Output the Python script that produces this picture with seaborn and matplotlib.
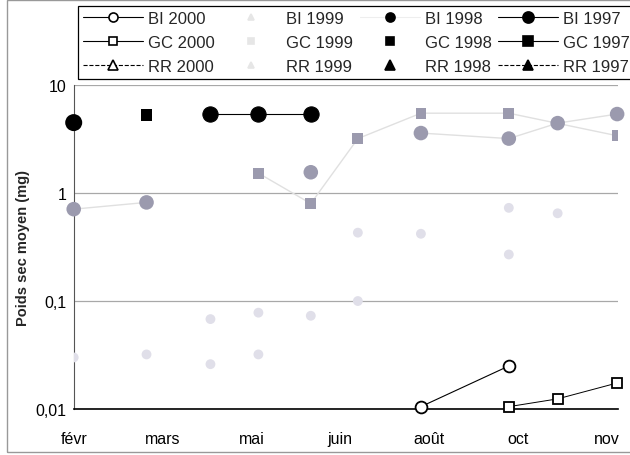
import numpy as np
import pandas as pd
import matplotlib
matplotlib.use('Agg')
import matplotlib.pyplot as plt
import matplotlib.lines as mlines
import matplotlib.patches as mpatches
import seaborn as sns

# axis text
mois_labels = ['févr', 'mars', 'mai', 'juin', 'août', 'oct', 'nov']
y_ticks = [0.01, 0.1, 1, 10]
y_ticklabels = ['0,01', '0,1', '1', '10']

# series (x = position on the month axis, y = mg)
bi2000_x = [3.91, 4.90]
bi2000_y = [0.0105, 0.025]
gc2000_x = [4.90, 5.45, 6.12]
gc2000_y = [0.0105, 0.0124, 0.0174]

bi1999_x = [0.0, 0.82, 2.67, 3.91, 4.90, 5.45, 6.12]
bi1999_y = [0.71, 0.82, 1.56, 3.6, 3.2, 4.45, 5.4]
bi1999_troncon = [0, 0, 1, 2, 2, 2, 2]   # the line is broken between pieces
gc1999_x = [2.08, 2.67, 3.20, 3.91, 4.90, 6.12]
gc1999_y = [1.53, 0.80, 3.2, 5.5, 5.5, 3.4]
rr1999_x = [0.0, 0.82, 1.54, 1.54, 2.08, 2.08, 2.67, 3.20, 3.20, 3.91, 4.90, 4.90, 5.45]
rr1999_y = [0.03, 0.032, 0.068, 0.026, 0.078, 0.032, 0.073, 0.1, 0.43, 0.42, 0.73, 0.27, 0.65]

bi1998_x = [0.0]
bi1998_y = [4.5]
gc1998_x = [0.82]
gc1998_y = [5.3]

bi1997_x = [1.54, 2.08, 2.67]
bi1997_y = [5.4, 5.4, 5.4]

bi1999 = pd.DataFrame({'mois': bi1999_x, 'poids': bi1999_y, 'troncon': bi1999_troncon})

sns.set_theme(style='white')
plt.rcParams['font.family'] = ['Liberation Sans', 'DejaVu Sans']

fig = plt.figure(figsize=(6.3, 4.56), dpi=100)
ax = fig.add_axes([0.117, 0.101, 0.864, 0.71])

grey = '#9b9aae'
faint = '#e0dfe9'
light_line = '#e0e0e0'

# light lines of the 1999 series
sns.lineplot(data=bi1999, x='mois', y='poids', units='troncon', ax=ax,
             estimator=None, sort=False, color=light_line, linewidth=1, zorder=2)
sns.lineplot(x=gc1999_x, y=gc1999_y, ax=ax, estimator=None, sort=False,
             color=light_line, linewidth=1, zorder=2)

sns.scatterplot(x=rr1999_x, y=rr1999_y, ax=ax, color=faint, s=50,
                marker='o', edgecolor='none', zorder=3)
sns.scatterplot(data=bi1999, x='mois', y='poids', ax=ax, color=grey, s=110,
                marker='o', edgecolor='none', zorder=4, clip_on=False)
sns.scatterplot(x=gc1999_x, y=gc1999_y, ax=ax, color=grey, s=60,
                marker='s', edgecolor='none', zorder=4)

# 1998 (markers only)
sns.scatterplot(x=bi1998_x, y=bi1998_y, ax=ax, color='black', s=150,
                marker='o', edgecolor='none', zorder=5, clip_on=False)
sns.scatterplot(x=gc1998_x, y=gc1998_y, ax=ax, color='black', s=70,
                marker='s', edgecolor='none', zorder=5)

# 1997 and 2000 (lines)
sns.lineplot(x=bi1997_x, y=bi1997_y, ax=ax, estimator=None, sort=False,
             color='black', linewidth=0.8, marker='o', markersize=11,
             markeredgecolor='black', zorder=6)
sns.lineplot(x=bi2000_x, y=bi2000_y, ax=ax, estimator=None, sort=False,
             color='black', linewidth=0.8, marker='o', markersize=8.5,
             markerfacecolor='white', markeredgecolor='black',
             markeredgewidth=1.3, zorder=6, clip_on=False)
sns.lineplot(x=gc2000_x, y=gc2000_y, ax=ax, estimator=None, sort=False,
             color='black', linewidth=0.7, marker='s', markersize=7,
             markerfacecolor='white', markeredgecolor='black',
             markeredgewidth=1.3, zorder=6, clip_on=False)

ax.set_yscale('log')
ax.set_ylim(0.01, 10)
ax.set_xlim(0, 6.13)
ax.set_yticks(y_ticks)
ax.set_yticklabels(y_ticklabels)
ax.minorticks_off()
ax.set_xticks(range(len(mois_labels)))
ax.set_xticklabels(mois_labels)
ax.tick_params(axis='both', labelsize=11.5, colors='black', length=4,
               direction='inout', width=0.8)
ax.tick_params(axis='x', pad=14)
ax.tick_params(axis='y', pad=3)
ax.yaxis.grid(True, color='#a8a8a8', linewidth=0.9)
ax.xaxis.grid(False)
for side in ['top', 'right']:
    ax.spines[side].set_visible(False)
ax.spines['left'].set_color('#555555')
ax.spines['left'].set_linewidth(0.8)
ax.spines['bottom'].set_color('black')
ax.spines['bottom'].set_linewidth(1.2)
ax.set_xlabel('')
ax.set_ylabel('Poids sec moyen (mg)', fontsize=10.5, fontweight='bold', labelpad=4)

# legend
def handle(label, marker, size, fc, ec, ls, lw=0.8, lc='black'):
    return mlines.Line2D([], [], color=lc, marker=marker, markersize=size,
                         markerfacecolor=fc, markeredgecolor=ec, linestyle=ls,
                         linewidth=lw, markeredgewidth=1.2, label=label)

handles = [
    handle('BI 2000', 'o', 6.5, 'white', 'black', '-'),
    handle('GC 2000', 's', 6, 'white', 'black', '-'),
    handle('RR 2000', '^', 6.5, 'white', 'black', '--'),
    handle('BI 1999', '^', 4, '#e6e6e6', '#e6e6e6', 'none'),
    handle('GC 1999', 's', 4, '#e6e6e6', '#e6e6e6', 'none'),
    handle('RR 1999', '^', 4, '#e6e6e6', '#e6e6e6', 'none'),
    handle('BI 1998', 'o', 6.5, 'black', 'black', '-', lc='#eeeeee'),
    handle('GC 1998', 's', 6, 'black', 'black', 'none'),
    handle('RR 1998', '^', 6.5, 'black', 'black', 'none'),
    handle('BI 1997', 'o', 8, 'black', 'black', '-'),
    handle('GC 1997', 's', 6.5, 'black', 'black', '-'),
    handle('RR 1997', '^', 6.5, 'black', 'black', '--'),
]
leg = fig.legend(handles=handles, ncol=4, loc='upper left',
                 bbox_to_anchor=(0.118, 0.993), frameon=True, fancybox=False,
                 edgecolor='black', framealpha=1, fontsize=12,
                 handlelength=3.6, handletextpad=0.3, columnspacing=0.4,
                 labelspacing=0.55, borderpad=0.3, borderaxespad=0.2)
leg.get_frame().set_linewidth(0.9)

fig.patches.append(mpatches.Rectangle((0.011, 0.007), 1.0, 0.99,
                                      transform=fig.transFigure, fill=False,
                                      edgecolor='#999999', linewidth=1))

fig.savefig('out.png', dpi=100)
